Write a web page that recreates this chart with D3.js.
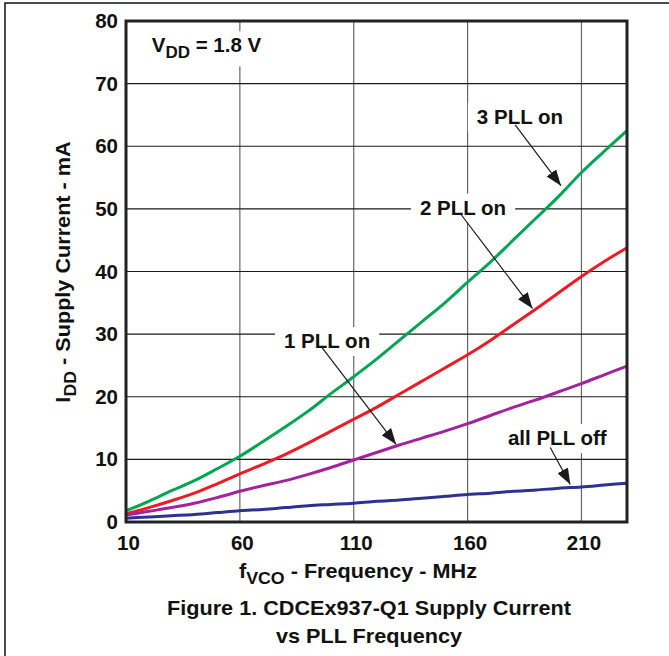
<!DOCTYPE html>
<html>
<head>
<meta charset="utf-8">
<script src="https://cdn.jsdelivr.net/npm/d3@7"></script>
<style>
  body { margin: 0; background: #fff; }
  text { font-family: "Liberation Sans", Arial, sans-serif; font-weight: bold; fill: #111; }
</style>
</head>
<body>
<div id="chart"></div>
<script>
// frequency points (MHz)
var freqs = [10, 20, 30, 40, 50, 60, 70, 80, 90, 100, 110, 120, 130, 140, 150, 160, 170, 180, 190, 200, 210, 220, 230];

// supply current (mA)
var pll3 = [1.8, 3.3, 5.0, 6.6, 8.5, 10.5, 12.8, 15.2, 17.7, 20.5, 23.2, 26.0, 29.0, 32.0, 35.0, 38.3, 41.5, 45.0, 48.5, 52.0, 55.8, 59.2, 62.5];
var pll2 = [1.3, 2.3, 3.4, 4.6, 6.1, 7.7, 9.2, 10.8, 12.6, 14.5, 16.4, 18.3, 20.4, 22.5, 24.6, 26.7, 29.0, 31.5, 34.0, 36.6, 39.2, 41.6, 43.8];
var pll1 = [1.1, 1.7, 2.3, 3.0, 3.9, 4.9, 5.8, 6.6, 7.6, 8.7, 9.9, 11.1, 12.3, 13.4, 14.5, 15.7, 17.0, 18.3, 19.5, 20.8, 22.1, 23.5, 24.9];
var pllOff = [0.6, 0.8, 1.0, 1.2, 1.5, 1.8, 2.0, 2.3, 2.6, 2.8, 3.0, 3.3, 3.5, 3.8, 4.1, 4.4, 4.6, 4.9, 5.1, 5.4, 5.6, 5.9, 6.2];

var xTicks = [10, 60, 110, 160, 210];
var yTicks = [0, 10, 20, 30, 40, 50, 60, 70, 80];

var seriesNames = ["3 PLL on", "2 PLL on", "1 PLL on", "all PLL off"];
var seriesColors = ["#00a651", "#ed1c24", "#a3229d", "#2e3192"];

// annotation label centre and arrow (data units)
var annoX = [183, 158, 98.3, 199.4];
var annoY = [64.7, 50.2, 28.9, 13.4];
var arrowFrom = [[180.9, 63.4], [156.7, 49.3], [96.0, 27.9], [196.3, 11.9]];
var arrowTo = [[201.0, 53.7], [188.5, 34.1], [128.6, 12.4], [205.1, 6.0]];

var svgWidth = 669;
var svgHeight = 656;

var margin = { top: 21, right: 42, bottom: 134, left: 126 };
var width = svgWidth - margin.left - margin.right;
var height = svgHeight - margin.top - margin.bottom;

var svg = d3.select("#chart")
  .append("svg")
  .attr("width", svgWidth)
  .attr("height", svgHeight);

// outer figure frame
svg.append("rect")
  .attr("x", 5).attr("y", 3)
  .attr("width", 700).attr("height", 700)
  .attr("fill", "none")
  .attr("stroke", "#111")
  .attr("stroke-width", 1.5);

var chartGroup = svg.append("g")
  .attr("transform", `translate(${margin.left}, ${margin.top})`);

var xScale = d3.scaleLinear().domain([10, 230]).range([0, width]);
var yScale = d3.scaleLinear().domain([0, 80]).range([height, 0]);

// grid
chartGroup.append("g")
  .selectAll("line")
  .data(xTicks.slice(1))
  .enter()
  .append("line")
  .attr("x1", d => xScale(d)).attr("x2", d => xScale(d))
  .attr("y1", 0).attr("y2", height)
  .attr("stroke", "#666")
  .attr("stroke-width", 1.2);

chartGroup.append("g")
  .selectAll("line")
  .data(yTicks.slice(1, -1))
  .enter()
  .append("line")
  .attr("x1", 0).attr("x2", width)
  .attr("y1", d => yScale(d)).attr("y2", d => yScale(d))
  .attr("stroke", "#1a1a1a")
  .attr("stroke-width", 1.1);

// axes (labels only, frame drawn separately)
var bottomAxis = d3.axisBottom(xScale).tickValues(xTicks).tickSize(0).tickPadding(14);
var leftAxis = d3.axisLeft(yScale).tickValues(yTicks).tickSize(0).tickPadding(8);

var xAxisG = chartGroup.append("g")
  .attr("transform", `translate(0, ${height})`)
  .call(bottomAxis);
var yAxisG = chartGroup.append("g").call(leftAxis);

[xAxisG, yAxisG].forEach(function(g) {
  g.select(".domain").remove();
  g.selectAll("text")
    .attr("font-size", 20.5)
    .attr("font-family", "Liberation Sans, Arial, sans-serif")
    .attr("font-weight", "bold")
    .attr("fill", "#111");
});
xAxisG.selectAll("text").attr("dx", 2).attr("dy", "0.68em");

// annotation labels with white backing
var annoGroup = chartGroup.append("g");

function addLabel(x, y, parts) {
  var g = annoGroup.append("g");
  var t = g.append("text")
    .attr("x", x).attr("y", y)
    .attr("font-size", 20.5);
  parts(t);
  var bb = t.node().getBBox();
  g.insert("rect", "text")
    .attr("x", bb.x - 9).attr("y", bb.y - 2)
    .attr("width", bb.width + 18).attr("height", bb.height + 6)
    .attr("fill", "#fff");
  return t;
}

// VDD note
addLabel(xScale(21.3), yScale(75.0), function(t) {
  t.append("tspan").text("V");
  t.append("tspan").attr("font-size", 17).attr("dy", 6).text("DD");
  t.append("tspan").attr("dy", -6).text(" = 1.8 V");
});

seriesNames.forEach(function(name, i) {
  addLabel(xScale(annoX[i]), yScale(annoY[i]) + 7, function(t) {
    t.attr("text-anchor", "middle").text(name);
  });
});

// curves
var line = d3.line()
  .x((d, i) => xScale(freqs[i]))
  .y(d => yScale(d))
  .curve(d3.curveMonotoneX);

var allSeries = [pll3, pll2, pll1, pllOff];
chartGroup.append("g")
  .selectAll("path")
  .data(allSeries)
  .enter()
  .append("path")
  .attr("d", line)
  .attr("fill", "none")
  .attr("stroke", (d, i) => seriesColors[i])
  .attr("stroke-width", 3);

// arrows
svg.append("defs").append("marker")
  .attr("id", "arrowhead")
  .attr("viewBox", "0 0 16 12")
  .attr("refX", 16).attr("refY", 6)
  .attr("markerWidth", 16).attr("markerHeight", 12)
  .attr("markerUnits", "userSpaceOnUse")
  .attr("orient", "auto")
  .append("path")
  .attr("d", "M0,0 L16,6 L0,12 Z")
  .attr("fill", "#1a1a1a");

chartGroup.append("g")
  .selectAll("line")
  .data(seriesNames)
  .enter()
  .append("line")
  .attr("x1", (d, i) => xScale(arrowFrom[i][0]))
  .attr("y1", (d, i) => yScale(arrowFrom[i][1]))
  .attr("x2", (d, i) => xScale(arrowTo[i][0]))
  .attr("y2", (d, i) => yScale(arrowTo[i][1]))
  .attr("stroke", "#1a1a1a")
  .attr("stroke-width", 1.2)
  .attr("marker-end", "url(#arrowhead)");

// plot frame
chartGroup.append("rect")
  .attr("x", 0).attr("y", 0)
  .attr("width", width).attr("height", height)
  .attr("fill", "none")
  .attr("stroke", "#222")
  .attr("stroke-width", 3);

// axis titles (the source face is a bit wider than Arial, so stretch horizontally)
var xTitle = svg.append("g")
  .attr("transform", "translate(358, 578) scale(1.11, 1)")
  .append("text")
  .attr("text-anchor", "middle")
  .attr("font-size", 19.5);
xTitle.append("tspan").text("f");
xTitle.append("tspan").attr("font-size", 16).attr("dy", 6).text("VCO");
xTitle.append("tspan").attr("dy", -6).text(" - Frequency - MHz");

var yTitle = svg.append("g")
  .attr("transform", "translate(70, 272) rotate(-90) scale(1.11, 1)")
  .append("text")
  .attr("text-anchor", "middle")
  .attr("font-size", 19.5);
yTitle.append("tspan").text("I");
yTitle.append("tspan").attr("font-size", 16).attr("dy", 6).text("DD");
yTitle.append("tspan").attr("dy", -6).text(" - Supply Current - mA");

// figure caption
svg.append("g")
  .attr("transform", "translate(369, 615) scale(1.11, 1)")
  .append("text")
  .attr("text-anchor", "middle")
  .attr("font-size", 19.5)
  .text("Figure 1. CDCEx937-Q1 Supply Current");
svg.append("g")
  .attr("transform", "translate(369, 643) scale(1.11, 1)")
  .append("text")
  .attr("text-anchor", "middle")
  .attr("font-size", 19.5)
  .text("vs PLL Frequency");
</script>
</body>
</html>
